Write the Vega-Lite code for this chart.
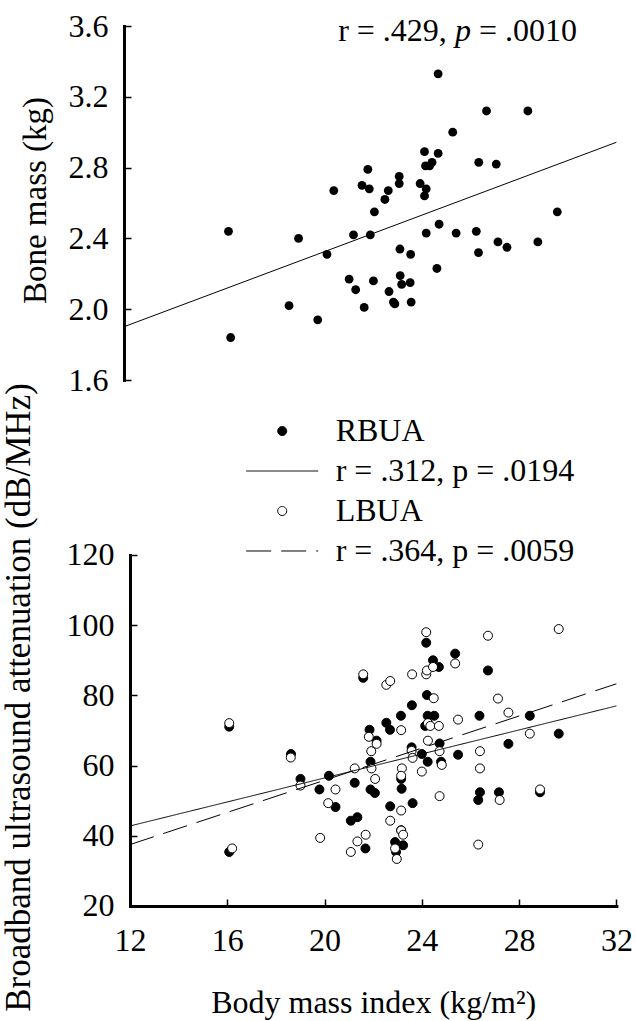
{
  "$schema": "https://vega.github.io/schema/vega-lite/v6.json",
  "autosize": {"type": "pad"},
  "padding": {"left": 1, "top": 10, "right": 4, "bottom": 2},
  "background": "white",
  "bounds": "flush",
  "spacing": 175,
  "resolve": {"scale": {"x": "independent", "y": "independent"}},
  "datasets": {
    "bone": [
      {"bmi":16.05,"bone":2.44},{"bmi":16.14,"bone":1.84},{"bmi":18.54,"bone":2.02},{"bmi":18.93,"bone":2.40},
      {"bmi":19.72,"bone":1.94},{"bmi":20.10,"bone":2.31},{"bmi":20.38,"bone":2.67},{"bmi":21.01,"bone":2.17},
      {"bmi":21.19,"bone":2.42},{"bmi":21.28,"bone":2.11},{"bmi":21.54,"bone":2.70},{"bmi":21.78,"bone":2.79},
      {"bmi":21.84,"bone":2.68},{"bmi":21.88,"bone":2.42},{"bmi":21.63,"bone":2.01},{"bmi":22.01,"bone":2.16},
      {"bmi":22.05,"bone":2.55},{"bmi":22.48,"bone":2.62},{"bmi":22.62,"bone":2.67},{"bmi":22.65,"bone":2.10},
      {"bmi":22.83,"bone":2.04},{"bmi":22.89,"bone":2.03},{"bmi":23.07,"bone":2.75},{"bmi":23.07,"bone":2.71},
      {"bmi":23.10,"bone":2.34},{"bmi":23.11,"bone":2.19},{"bmi":23.17,"bone":2.14},{"bmi":23.52,"bone":2.15},
      {"bmi":23.54,"bone":2.31},{"bmi":23.56,"bone":2.04},{"bmi":23.93,"bone":2.71},{"bmi":24.11,"bone":2.89},
      {"bmi":24.15,"bone":2.81},{"bmi":24.18,"bone":2.68},{"bmi":24.11,"bone":2.64},{"bmi":24.18,"bone":2.43},
      {"bmi":24.32,"bone":2.81},{"bmi":24.42,"bone":2.83},{"bmi":24.67,"bone":2.88},{"bmi":24.67,"bone":3.33},
      {"bmi":24.71,"bone":2.48},{"bmi":24.62,"bone":2.23},{"bmi":25.27,"bone":3.00},{"bmi":25.41,"bone":2.43},
      {"bmi":26.24,"bone":2.44},{"bmi":26.33,"bone":2.32},{"bmi":26.34,"bone":2.83},{"bmi":26.66,"bone":3.12},
      {"bmi":27.06,"bone":2.82},{"bmi":27.13,"bone":2.38},{"bmi":27.50,"bone":2.35},{"bmi":28.36,"bone":3.12},
      {"bmi":28.77,"bone":2.38},{"bmi":29.57,"bone":2.55}
    ],
    "boneFit": [{"bmi": 11.753, "bone": 1.901}, {"bmi": 32, "bone": 2.943}],
    "boneNote": [{"bmi": 20.56, "bone": 3.515, "text": "r = .429,"}, {"bmi": 26.35, "bone": 3.515, "text": "= .0010"}],
    "boneNoteP": [{"bmi": 25.36, "bone": 3.515, "text": "p"}],
    "bua": [
      {"bmi":16.08,"bua":71.1,"series":"RBUA"},{"bmi":16.08,"bua":35.4,"series":"RBUA"},{"bmi":18.62,"bua":63.3,"series":"RBUA"},
      {"bmi":19.01,"bua":56.2,"series":"RBUA"},{"bmi":19.79,"bua":53.2,"series":"RBUA"},{"bmi":20.18,"bua":57.1,"series":"RBUA"},
      {"bmi":20.45,"bua":48.2,"series":"RBUA"},{"bmi":21.08,"bua":44.3,"series":"RBUA"},{"bmi":21.24,"bua":55.1,"series":"RBUA"},
      {"bmi":21.35,"bua":45.3,"series":"RBUA"},{"bmi":21.68,"bua":36.4,"series":"RBUA"},{"bmi":21.59,"bua":85.0,"series":"RBUA"},
      {"bmi":21.85,"bua":70.2,"series":"RBUA"},{"bmi":21.89,"bua":61.1,"series":"RBUA"},{"bmi":21.89,"bua":53.2,"series":"RBUA"},
      {"bmi":22.07,"bua":52.2,"series":"RBUA"},{"bmi":22.14,"bua":67.1,"series":"RBUA"},{"bmi":22.54,"bua":72.2,"series":"RBUA"},
      {"bmi":22.69,"bua":70.2,"series":"RBUA"},{"bmi":22.70,"bua":48.4,"series":"RBUA"},{"bmi":23.14,"bua":74.2,"series":"RBUA"},
      {"bmi":23.15,"bua":56.2,"series":"RBUA"},{"bmi":23.17,"bua":53.4,"series":"RBUA"},{"bmi":23.15,"bua":41.6,"series":"RBUA"},
      {"bmi":22.90,"bua":38.2,"series":"RBUA"},{"bmi":22.94,"bua":35.4,"series":"RBUA"},{"bmi":23.23,"bua":37.3,"series":"RBUA"},
      {"bmi":23.59,"bua":77.2,"series":"RBUA"},{"bmi":23.58,"bua":65.2,"series":"RBUA"},{"bmi":23.62,"bua":49.3,"series":"RBUA"},
      {"bmi":24.00,"bua":63.3,"series":"RBUA"},{"bmi":24.18,"bua":95.0,"series":"RBUA"},{"bmi":24.21,"bua":80.1,"series":"RBUA"},
      {"bmi":24.24,"bua":74.2,"series":"RBUA"},{"bmi":24.14,"bua":71.3,"series":"RBUA"},{"bmi":24.24,"bua":61.1,"series":"RBUA"},
      {"bmi":24.46,"bua":90.0,"series":"RBUA"},{"bmi":24.70,"bua":88.1,"series":"RBUA"},{"bmi":24.51,"bua":74.2,"series":"RBUA"},
      {"bmi":24.73,"bua":66.3,"series":"RBUA"},{"bmi":24.79,"bua":61.1,"series":"RBUA"},{"bmi":25.37,"bua":91.9,"series":"RBUA"},
      {"bmi":25.49,"bua":63.1,"series":"RBUA"},{"bmi":26.32,"bua":50.2,"series":"RBUA"},{"bmi":26.37,"bua":74.2,"series":"RBUA"},
      {"bmi":26.39,"bua":52.4,"series":"RBUA"},{"bmi":26.72,"bua":87.1,"series":"RBUA"},{"bmi":27.17,"bua":52.4,"series":"RBUA"},
      {"bmi":27.56,"bua":66.2,"series":"RBUA"},{"bmi":28.44,"bua":74.2,"series":"RBUA"},{"bmi":28.86,"bua":52.4,"series":"RBUA"},
      {"bmi":29.63,"bua":69.1,"series":"RBUA"},
      {"bmi":16.08,"bua":72.1,"series":"LBUA"},{"bmi":16.20,"bua":36.4,"series":"LBUA"},{"bmi":18.61,"bua":62.3,"series":"LBUA"},
      {"bmi":19.01,"bua":54.3,"series":"LBUA"},{"bmi":19.82,"bua":39.4,"series":"LBUA"},{"bmi":20.15,"bua":49.3,"series":"LBUA"},
      {"bmi":20.45,"bua":53.2,"series":"LBUA"},{"bmi":21.08,"bua":35.4,"series":"LBUA"},{"bmi":21.24,"bua":59.2,"series":"LBUA"},
      {"bmi":21.35,"bua":38.4,"series":"LBUA"},{"bmi":21.69,"bua":40.3,"series":"LBUA"},{"bmi":21.59,"bua":86.0,"series":"LBUA"},
      {"bmi":21.82,"bua":68.2,"series":"LBUA"},{"bmi":21.92,"bua":64.1,"series":"LBUA"},{"bmi":21.93,"bua":59.2,"series":"LBUA"},
      {"bmi":22.08,"bua":56.2,"series":"LBUA"},{"bmi":22.14,"bua":66.2,"series":"LBUA"},{"bmi":22.54,"bua":83.0,"series":"LBUA"},
      {"bmi":22.70,"bua":84.1,"series":"LBUA"},{"bmi":22.70,"bua":44.3,"series":"LBUA"},{"bmi":23.15,"bua":70.1,"series":"LBUA"},
      {"bmi":23.18,"bua":59.2,"series":"LBUA"},{"bmi":23.15,"bua":57.1,"series":"LBUA"},{"bmi":23.15,"bua":47.2,"series":"LBUA"},
      {"bmi":23.15,"bua":41.5,"series":"LBUA"},{"bmi":23.23,"bua":40.3,"series":"LBUA"},{"bmi":22.90,"bua":36.4,"series":"LBUA"},
      {"bmi":22.97,"bua":33.4,"series":"LBUA"},{"bmi":23.60,"bua":86.0,"series":"LBUA"},{"bmi":23.58,"bua":64.2,"series":"LBUA"},
      {"bmi":23.62,"bua":62.2,"series":"LBUA"},{"bmi":24.00,"bua":58.3,"series":"LBUA"},{"bmi":24.18,"bua":98.0,"series":"LBUA"},
      {"bmi":24.18,"bua":86.0,"series":"LBUA"},{"bmi":24.21,"bua":87.1,"series":"LBUA"},{"bmi":24.46,"bua":88.1,"series":"LBUA"},
      {"bmi":24.49,"bua":79.2,"series":"LBUA"},{"bmi":24.25,"bua":72.1,"series":"LBUA"},{"bmi":24.25,"bua":67.1,"series":"LBUA"},
      {"bmi":24.35,"bua":71.3,"series":"LBUA"},{"bmi":24.70,"bua":71.3,"series":"LBUA"},{"bmi":24.73,"bua":64.1,"series":"LBUA"},
      {"bmi":24.82,"bua":60.2,"series":"LBUA"},{"bmi":24.73,"bua":51.3,"series":"LBUA"},{"bmi":25.37,"bua":89.1,"series":"LBUA"},
      {"bmi":25.49,"bua":73.1,"series":"LBUA"},{"bmi":26.32,"bua":37.5,"series":"LBUA"},{"bmi":26.39,"bua":64.1,"series":"LBUA"},
      {"bmi":26.39,"bua":59.2,"series":"LBUA"},{"bmi":26.72,"bua":97.0,"series":"LBUA"},{"bmi":27.13,"bua":79.1,"series":"LBUA"},
      {"bmi":27.20,"bua":50.2,"series":"LBUA"},{"bmi":27.56,"bua":75.1,"series":"LBUA"},{"bmi":28.44,"bua":69.1,"series":"LBUA"},
      {"bmi":28.86,"bua":53.2,"series":"LBUA"},{"bmi":29.63,"bua":98.9,"series":"LBUA"}
    ],
    "buaFit": [
      {"bmi": 12, "bua": 42.8, "series": "r = .312, p = .0194"},
      {"bmi": 32, "bua": 77.0, "series": "r = .312, p = .0194"},
      {"bmi": 12, "bua": 37.5, "series": "r = .364, p = .0059"},
      {"bmi": 32, "bua": 83.3, "series": "r = .364, p = .0059"}
    ]
  },
  "vconcat": [
    {
      "width": 486.4,
      "height": 354,
      "layer": [
        {
          "data": {"name": "bone"},
          "mark": {"type": "point", "filled": true, "color": "black", "opacity": 1, "size": 78, "strokeWidth": 0},
          "encoding": {
            "x": {"field": "bmi", "type": "quantitative", "scale": {"domain": [12, 32], "nice": false, "zero": false}, "axis": null},
            "y": {"field": "bone", "type": "quantitative", "scale": {"domain": [1.6, 3.6], "nice": false, "zero": false},
                  "axis": {"title": "Bone mass (kg)", "values": [1.6, 2.0, 2.4, 2.8, 3.2, 3.6], "format": ".1f", "offset": 6,
                           "titleAngle": 270, "titleAlign": "center", "titleBaseline": "alphabetic", "titleX": -78.3, "titleY": 174}}
          }
        },
        {
          "data": {"name": "boneFit"},
          "mark": {"type": "line", "color": "black", "strokeWidth": 1, "clip": false},
          "encoding": {
            "x": {"field": "bmi", "type": "quantitative"},
            "y": {"field": "bone", "type": "quantitative"}
          }
        },
        {
          "data": {"name": "boneNote"},
          "mark": {"type": "text", "align": "left", "baseline": "alphabetic", "font": "Liberation Serif", "fontSize": 32, "color": "black"},
          "encoding": {
            "x": {"field": "bmi", "type": "quantitative"},
            "y": {"field": "bone", "type": "quantitative"},
            "text": {"field": "text"}
          }
        },
        {
          "data": {"name": "boneNoteP"},
          "mark": {"type": "text", "align": "left", "baseline": "alphabetic", "font": "Liberation Serif", "fontSize": 32, "fontStyle": "italic", "color": "black"},
          "encoding": {
            "x": {"field": "bmi", "type": "quantitative"},
            "y": {"field": "bone", "type": "quantitative"},
            "text": {"field": "text"}
          }
        }
      ]
    },
    {
      "width": 486.4,
      "height": 351,
      "layer": [
        {
          "data": {"name": "bua"},
          "mark": {"type": "point", "opacity": 1, "strokeWidth": 1, "size": 5184},
          "encoding": {
            "x": {"field": "bmi", "type": "quantitative", "scale": {"domain": [12, 32], "nice": false, "zero": false},
                  "axis": {"title": "Body mass index (kg/m²)", "values": [12, 16, 20, 24, 28, 32], "labelPadding": 27,
                           "titleFontSize": 32, "titleBaseline": "alphabetic", "titleY": 107}},
            "y": {"field": "bua", "type": "quantitative", "scale": {"domain": [20, 120], "nice": false, "zero": false},
                  "axis": {"title": "Broadband ultrasound attenuation (dB/MHz)", "values": [20, 40, 60, 80, 100, 120],
                           "titleFontSize": 35,
                           "titleAngle": 270, "titleAlign": "center", "titleBaseline": "alphabetic", "titleX": -100.7, "titleY": 142}},
            "shape": {"field": "series", "type": "nominal",
                      "scale": {"domain": ["RBUA", "r = .312, p = .0194", "LBUA", "r = .364, p = .0059"],
                                "range": ["M0.125,0C0.125,0.06904 0.06904,0.125 0,0.125C-0.06904,0.125 -0.125,0.06904 -0.125,0C-0.125,-0.06904 -0.06904,-0.125 0,-0.125C0.06904,-0.125 0.125,-0.06904 0.125,0Z",
                                          "M-1,0L1,0",
                                          "M0.125,0C0.125,0.06904 0.06904,0.125 0,0.125C-0.06904,0.125 -0.125,0.06904 -0.125,0C-0.125,-0.06904 -0.06904,-0.125 0,-0.125C0.06904,-0.125 0.125,-0.06904 0.125,0Z",
                                          "M-1,0L1,0"]},
                      "legend": {"title": null}},
            "fill": {"field": "series", "type": "nominal",
                     "scale": {"domain": ["RBUA", "r = .312, p = .0194", "LBUA", "r = .364, p = .0059"],
                               "range": ["black", "black", "white", "black"]},
                     "legend": {"title": null}},
            "stroke": {"field": "series", "type": "nominal",
                       "scale": {"domain": ["RBUA", "r = .312, p = .0194", "LBUA", "r = .364, p = .0059"],
                                 "range": ["black", "black", "black", "black"]},
                       "legend": {"title": null}}
          }
        },
        {
          "data": {"name": "buaFit"},
          "mark": {"type": "line", "strokeWidth": 1, "clip": false},
          "encoding": {
            "x": {"field": "bmi", "type": "quantitative"},
            "y": {"field": "bua", "type": "quantitative"},
            "stroke": {"field": "series", "type": "nominal", "legend": {"title": null}},
            "strokeDash": {"field": "series", "type": "nominal",
                           "scale": {"domain": ["RBUA", "r = .312, p = .0194", "LBUA", "r = .364, p = .0059"],
                                     "range": [[1, 0], [1, 0], [1, 0], [25, 10]]},
                           "legend": {"title": null}}
          }
        }
      ]
    }
  ],
  "config": {
    "view": {"stroke": null},
    "font": "Liberation Serif",
    "axis": {
      "domainColor": "black", "domainWidth": 3, "domainCap": "square",
      "tickColor": "black", "tickWidth": 1.5, "tickSize": -7,
      "labelFont": "Liberation Serif", "labelFontSize": 32, "labelColor": "black",
      "labelFlush": false, "labelOverlap": false, "labelPadding": 23,
      "titleFont": "Liberation Serif", "titleFontSize": 33, "titleFontWeight": "normal", "titleColor": "black",
      "grid": false
    },
    "legend": {
      "orient": "none", "legendX": 115.7, "legendY": 385, "direction": "vertical", "columns": 1,
      "padding": 0, "symbolSize": 5184, "symbolStrokeWidth": 1, "clipHeight": 40, "rowPadding": 0,
      "labelOffset": 17, "labelFont": "Liberation Serif", "labelFontSize": 32, "labelColor": "black", "labelLimit": 0
    }
  }
}
